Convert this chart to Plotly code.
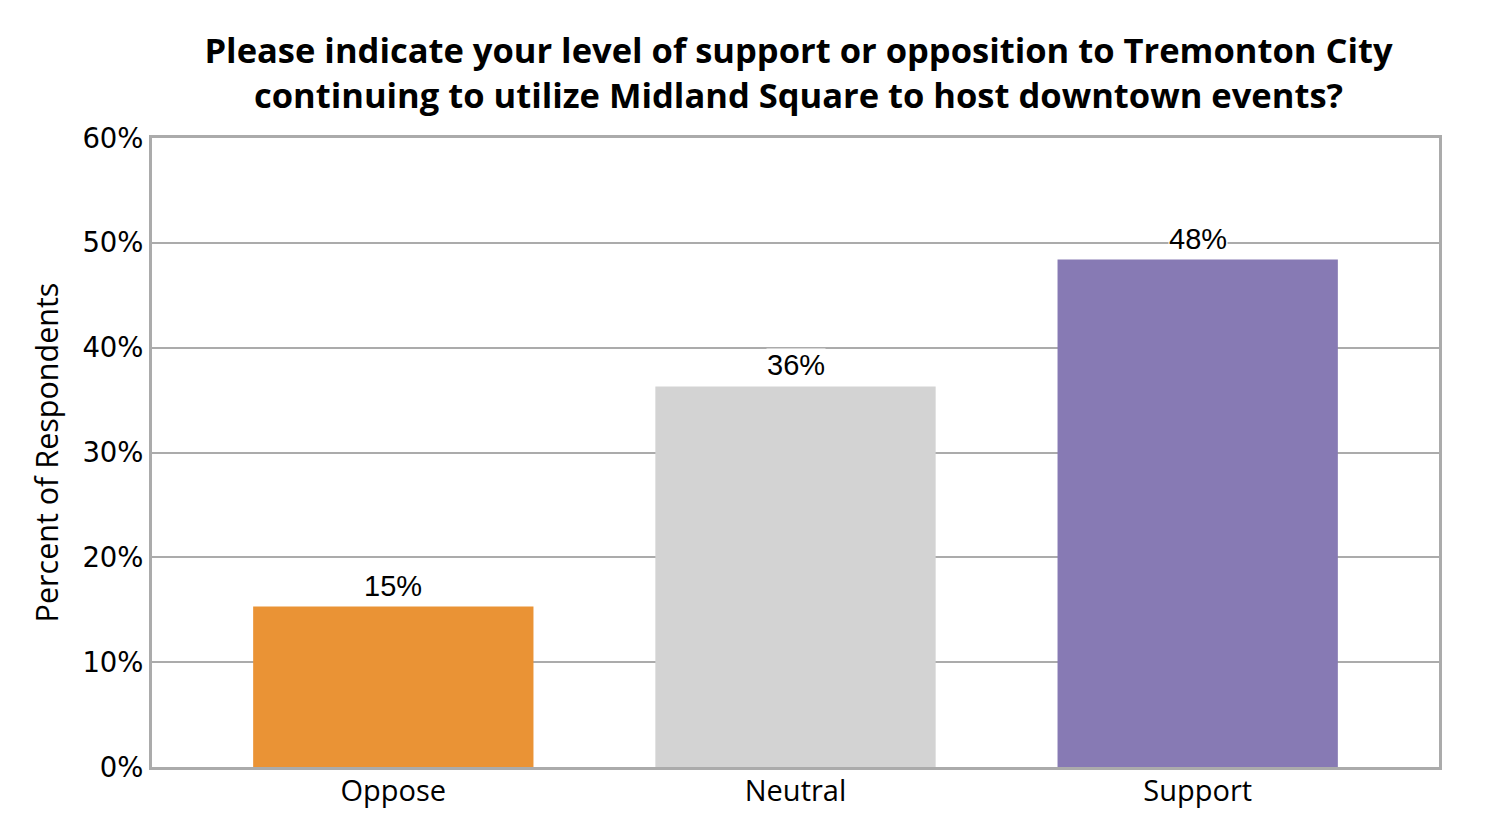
import plotly.graph_objects as go

# Survey responses
categories = ["Oppose", "Neutral", "Support"]
percents = [15.3, 36.3, 48.4]
labels = ["15%", "36%", "48%"]
colors = ["#EA9335", "#D3D3D3", "#877AB4"]

fig = go.Figure()

fig.add_trace(go.Bar(x=categories, y=percents, marker=dict(color=colors, line=dict(width=0)),
                     width=0.697, hoverinfo="skip"))

# value labels with white background (they sit over the gridlines)
for cat, val, lab in zip(categories, percents, labels):
    fig.add_annotation(x=cat, y=val, text=lab, showarrow=False, yanchor="bottom", yshift=4,
                       bgcolor="white", borderpad=0,
                       font=dict(family="Liberation Sans, Arial", size=29, color="black"))

fig.update_layout(
    title=dict(text="Please indicate your level of support or opposition to Tremonton City<br>"
                    "continuing to utilize Midland Square to host downtown events?",
               x=0.527, xanchor="center", yref="container", y=0.934, yanchor="middle",
               font=dict(family="Open Sans", size=34.5, color="black", weight="bold")),
    width=1500, height=840,
    margin=dict(l=144, r=69, t=130, b=81),
    plot_bgcolor="white", paper_bgcolor="white",
    showlegend=False,
    font=dict(family="Open Sans", color="black"),
    xaxis=dict(range=[-0.6, 2.6], showline=True, linecolor="#ABABAB", linewidth=3, mirror=True,
               showgrid=False, ticks="", ticklabelstandoff=-4,
               tickfont=dict(size=29, family="Open Sans")),
    yaxis=dict(range=[0, 60], dtick=10, ticksuffix="%", showline=True, linecolor="#ABABAB",
               linewidth=3, mirror=True, showgrid=True, gridcolor="#ABABAB", gridwidth=2,
               zeroline=False, ticks="", tickfont=dict(size=27.5, family="DejaVu Sans"),
               title=dict(text="Percent of Respondents", font=dict(size=30.5, family="Open Sans"), standoff=15)),
)

fig.write_html("out.html")
